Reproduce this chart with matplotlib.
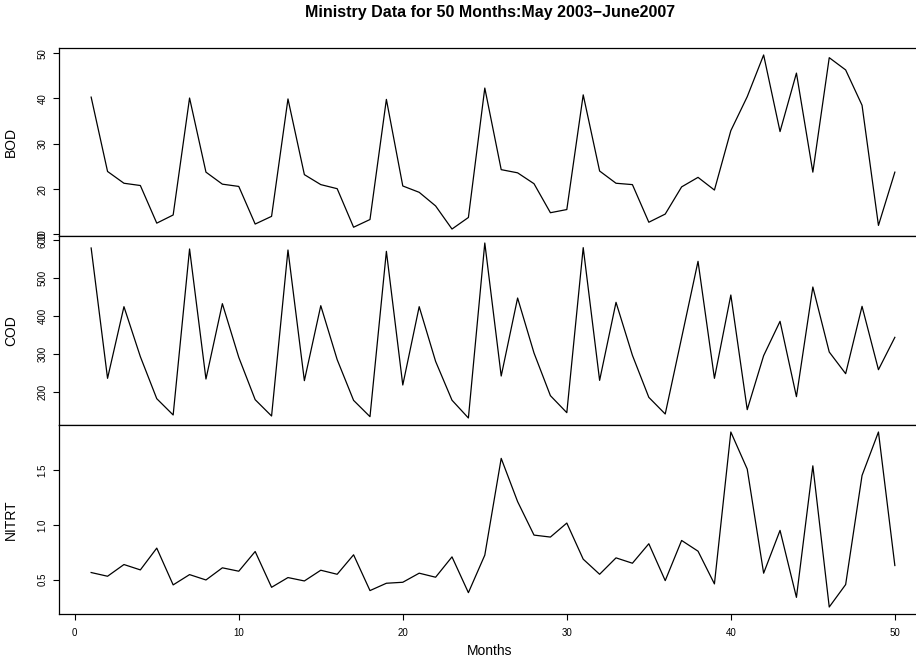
import matplotlib
matplotlib.use('Agg')
import matplotlib.pyplot as plt
import numpy as np

plt.rcParams['font.family'] = ['Liberation Sans', 'DejaVu Sans']

# monthly readings, May 2003 - June 2007
months = list(range(1, 51))

bod = [40.3, 23.9, 21.3, 20.8, 12.5, 14.3, 40.1, 23.75, 21.1, 20.6,
       12.3, 14.0, 39.9, 23.2, 21.0, 20.1, 11.6, 13.3, 39.8, 20.7,
       19.3, 16.3, 11.2, 13.75, 42.3, 24.3, 23.6, 21.2, 14.8, 15.5,
       40.8, 24.0, 21.3, 21.0, 12.7, 14.5, 20.5, 22.6, 19.8, 32.9,
       40.4, 49.6, 32.7, 45.6, 23.75, 49.0, 46.3, 38.5, 12.0, 23.75]

cod = [578.5, 236.4, 424.5, 293.3, 183.0, 140.2, 575.9, 234.6, 432.4, 291.5,
       180.4, 137.5, 573.2, 230.3, 427.1, 285.4, 178.6, 135.8, 569.7, 218.9,
       424.5, 281.0, 179.0, 132.3, 591.6, 242.5, 447.2, 302.9, 190.9, 146.3,
       579.4, 231.1, 435.9, 296.8, 186.5, 142.8, 343.0, 543.5, 236.4, 455.1,
       154.2, 295.9, 386.0, 188.3, 476.1, 305.5, 248.6, 425.4, 259.1, 344.0]

nitrt = [0.566, 0.532, 0.639, 0.590, 0.789, 0.453, 0.547, 0.498, 0.609, 0.578,
         0.758, 0.431, 0.520, 0.489, 0.587, 0.550, 0.728, 0.401, 0.468, 0.477,
         0.560, 0.523, 0.709, 0.382, 0.725, 1.609, 1.214, 0.908, 0.890, 1.018,
         0.688, 0.550, 0.700, 0.651, 0.829, 0.492, 0.859, 0.761, 0.462, 1.850,
         1.511, 0.560, 0.951, 0.339, 1.541, 0.251, 0.456, 1.453, 1.850, 0.630]

names = ['BOD', 'COD', 'NITRT']
series = [bod, cod, nitrt]
yticks = [[10, 20, 30, 40, 50], [200, 300, 400, 500, 600], [0.5, 1.0, 1.5]]
xticks = [0, 10, 20, 30, 40, 50]


def r_range(vals):
    # R style 4% padding
    lo, hi = min(vals), max(vals)
    pad = 0.04 * (hi - lo)
    return lo - pad, hi + pad


fig = plt.figure(figsize=(9.16, 6.62), dpi=100)

W, H = 916.0, 662.0
left = 59 / W
width = 868 / W
tops = [48, 236, 425]
bottoms = [236, 425, 614]

xlo, xhi = r_range(months)

for i in range(3):
    ax = fig.add_axes([left, (H - bottoms[i]) / H, width, (bottoms[i] - tops[i]) / H])
    ax.plot(months, series[i], color='black', lw=0.9)
    ax.set_xlim(xlo, xhi)
    ax.set_ylim(*r_range(series[i]))
    ax.set_yticks(yticks[i])
    ax.tick_params(axis='y', labelsize=7, length=4.3, width=0.8, pad=4,
                   labelrotation=90)
    for lab in ax.get_yticklabels():
        lab.set_va('center')
    ax.set_ylabel(names[i], fontsize=10)
    ax.yaxis.set_label_coords(-(59 - 18) / 868, 0.5)
    ax.spines['right'].set_visible(False)
    for sp in ax.spines.values():
        sp.set_linewidth(0.9)
    if i < 2:
        ax.set_xticks([])
    else:
        ax.set_xticks(xticks)
        ax.tick_params(axis='x', labelsize=7, length=4.3, width=0.8, pad=5.5)
        ax.set_xlabel('Months', fontsize=10)
        ax.xaxis.set_label_coords((490 - 59) / 868, -(644 - 614) / 189)

fig.text(490 / W, 1 - 13 / H, 'Ministry Data for 50 Months:May 2003\u2212June2007',
         ha='center', va='center', fontsize=11.5, fontweight='bold')

fig.savefig('out.png', dpi=100)
